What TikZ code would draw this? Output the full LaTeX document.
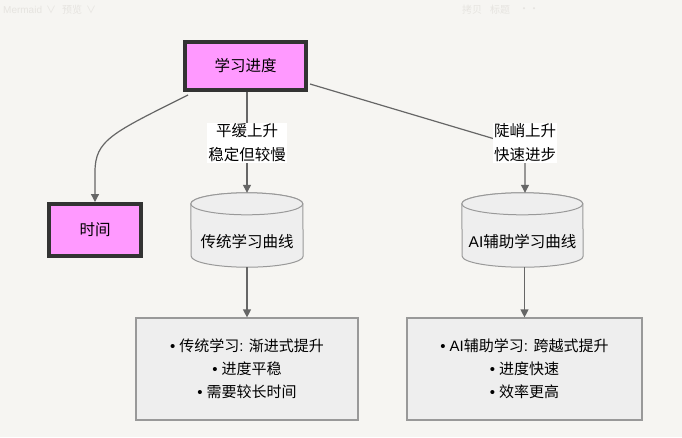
\documentclass[tikz,border=0pt]{standalone}
\usepackage{fontspec}
\setmainfont{Noto Sans CJK SC}
\newfontfamily\latinf{Liberation Sans}
\usetikzlibrary{arrows.meta,calc}
\definecolor{bg}{HTML}{F6F5F2}
\definecolor{pinkfill}{HTML}{FF99FF}
\definecolor{darkborder}{HTML}{333333}
\definecolor{greyfill}{HTML}{EEEEEE}
\definecolor{greyborder}{HTML}{999999}
\definecolor{edgecol}{HTML}{666666}
\definecolor{faint}{HTML}{E6E4E0}
\newcommand{\bul}{{\latinf•}\hspace{4pt}}
\tikzset{
  pinkbox/.style={draw=darkborder, fill=pinkfill, line width=4pt, inner sep=0pt, font=\fontsize{15.5}{18}\selectfont},
  greybox/.style={draw=greyborder, fill=greyfill, line width=1.2pt, inner sep=0pt, align=center, font=\fontsize{15}{23}\selectfont},
  cylbox/.style={inner sep=0pt, font=\fontsize{15.5}{18}\selectfont},
  cylpath/.style={draw=greyborder, fill=greyfill, line width=1pt},
  edge/.style={draw=edgecol, line width=1.2pt, -{Triangle[length=8pt,width=8pt]}},
  lbl/.style={fill=white, inner sep=1pt, align=center, font=\fontsize{15.5}{24}\selectfont},
  uitext/.style={text=faint, font=\fontsize{10}{12}\selectfont, anchor=west, inner sep=0pt}
}
\begin{document}
\begin{tikzpicture}[x=1pt,y=-1pt]
\fill[bg] (0,0) rectangle (682,437);
\useasboundingbox (0,0) rectangle (682,437);
% faint UI bar
\node[uitext] (ui1) at (3,10) {{\latinf Mermaid} \,∨};
\node[uitext] (ui2) at (62,10) {预览 \,∨};
\node[uitext] (ui3) at (462,10) {拷贝};
\node[uitext] (ui4) at (490,10) {标题};
\node[uitext] (ui5) at (519,10) {··};
% nodes
\node[pinkbox, minimum width=121pt, minimum height=48pt] (a) at (245.5,66) {学习进度};
\node[pinkbox, minimum width=92pt, minimum height=52pt] (t) at (95,230) {时间};
% cylinders
\node[cylbox, minimum width=112pt, minimum height=74pt] (c1) at (247,230) {};
\node[cylbox, minimum width=121pt, minimum height=74pt] (c2) at (522.5,230) {};
\path[cylpath] ($(c1.north west)+(0,11)$) arc[start angle=180,end angle=360,x radius=56,y radius=11] -- ($(c1.south east)+(0,-11)$) arc[start angle=0,end angle=180,x radius=56,y radius=11] -- cycle;
\path[cylpath] ($(c1.north west)+(0,11)$) arc[start angle=180,end angle=-180,x radius=56,y radius=11];
\path[cylpath] ($(c2.north west)+(0,11)$) arc[start angle=180,end angle=360,x radius=60.5,y radius=11] -- ($(c2.south east)+(0,-11)$) arc[start angle=0,end angle=180,x radius=60.5,y radius=11] -- cycle;
\path[cylpath] ($(c2.north west)+(0,11)$) arc[start angle=180,end angle=-180,x radius=60.5,y radius=11];
\node[cylbox] (c1t) at (247,242) {传统学习曲线};
\node[cylbox] (c2t) at (522.5,242) {{\latinf AI}辅助学习曲线};
% result boxes
\node[greybox, minimum width=222pt, minimum height=102pt] (b1) at (247,369) {\bul 传统学习{\latinf: }渐进式提升\\\bul 进度平稳\\\bul 需要较长时间};
\node[greybox, minimum width=235pt, minimum height=102pt] (b2) at (524.5,369) {\bul {\latinf AI}辅助学习{\latinf: }跨越式提升\\\bul 进度快速\\\bul 效率更高};
% edges
\draw[edge] ($(a.south west)+(5,3)$) .. controls (112,133) and (95,140) .. (95,172) -- (t.north);
\draw[edge] (a.south -| c1.north) -- (c1.north);
\coordinate (bend) at (525,148);
\draw[edge] ($(a.south east)+(2,-8)$) -- (bend) -- (bend |- c2.north);
\draw[edge] (c1.south) -- (b1.north);
\draw[edge] (b2.north |- c2.south) -- (b2.north);
% labels
\node[lbl] (l1) at (247,143) {平缓上升\\稳定但较慢};
\node[lbl] (l2) at (525,143) {陡峭上升\\快速进步};
\end{tikzpicture}
\end{document}
